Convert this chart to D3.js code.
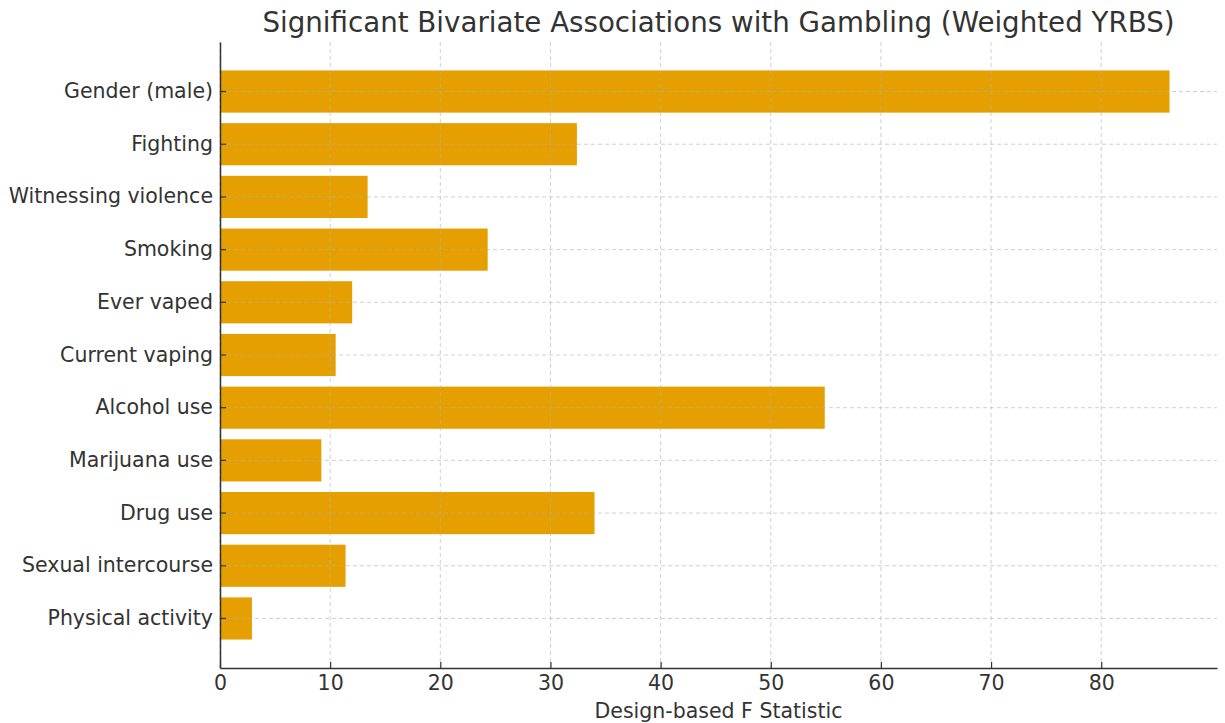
<!DOCTYPE html>
<html>
<head>
<meta charset="utf-8">
<script src="https://cdn.jsdelivr.net/npm/d3@7"></script>
<style>
  body { margin: 0; background: #fff; }
  text { font-family: "DejaVu Sans", sans-serif; fill: #333; }
</style>
</head>
<body>
<div id="chart"></div>
<script>
// data
var categories = ["Gender (male)", "Fighting", "Witnessing violence", "Smoking", "Ever vaped",
  "Current vaping", "Alcohol use", "Marijuana use", "Drug use", "Sexual intercourse", "Physical activity"];
var fStats = [86.2, 32.4, 13.4, 24.3, 12.0, 10.5, 54.9, 9.2, 34.0, 11.4, 2.9];
var xTicks = [0, 10, 20, 30, 40, 50, 60, 70, 80];

var margin = {top: 42, right: 8, bottom: 55, left: 220},
    width = 1225 - margin.left - margin.right,
    height = 723 - margin.top - margin.bottom;

var svg = d3.select("#chart")
  .append("svg")
    .attr("width", 1225)
    .attr("height", 723)
  .append("g")
    .attr("transform", "translate(" + margin.left + "," + margin.top + ")");

var x = d3.scaleLinear()
  .domain([0, d3.max(fStats) * 1.05])
  .range([0, width]);

var y = d3.scaleBand()
  .domain(categories)
  .range([0, height])
  .paddingInner(0.2)
  .paddingOuter(0.54);

// bars
svg.selectAll(".bar")
  .data(categories)
  .enter()
  .append("rect")
    .attr("class", "bar")
    .attr("x", x(0))
    .attr("y", function(d) { return y(d); })
    .attr("width", function(d, i) { return x(fStats[i]) - x(0); })
    .attr("height", y.bandwidth())
    .attr("fill", "#E69F00");

// grid on top of bars
var grid = svg.append("g").attr("class", "grid");
grid.selectAll(".vg")
  .data(xTicks)
  .enter()
  .append("line")
    .attr("x1", function(d) { return x(d); })
    .attr("x2", function(d) { return x(d); })
    .attr("y1", 0)
    .attr("y2", height)
    .attr("stroke", "#b0b0b0")
    .attr("stroke-opacity", 0.6)
    .attr("stroke-dasharray", "4,3");
grid.selectAll(".hg")
  .data(categories)
  .enter()
  .append("line")
    .attr("x1", 0)
    .attr("x2", width)
    .attr("y1", function(d) { return y(d) + y.bandwidth() / 2; })
    .attr("y2", function(d) { return y(d) + y.bandwidth() / 2; })
    .attr("stroke", "#b0b0b0")
    .attr("stroke-opacity", 0.6)
    .attr("stroke-dasharray", "4,3");

// X axis
var xAxis = svg.append("g")
  .attr("transform", "translate(0," + height + ")")
  .call(d3.axisBottom(x).tickValues(xTicks).tickSizeInner(-6).tickSizeOuter(0).tickPadding(7));
xAxis.selectAll("text").style("font-size", "20.5px").style("fill", "#333");
xAxis.selectAll(".tick line").attr("stroke", "#333").attr("stroke-width", 1.2);
xAxis.select(".domain").attr("stroke", "#333").attr("stroke-width", 1.5);

// Y axis
var yAxis = svg.append("g")
  .call(d3.axisLeft(y).tickSizeInner(-6).tickSizeOuter(0).tickPadding(7));
yAxis.selectAll("text").style("font-size", "20.5px").style("fill", "#333");
yAxis.selectAll(".tick line").attr("stroke", "#333").attr("stroke-width", 1.2);
yAxis.select(".domain").attr("stroke", "#333").attr("stroke-width", 1.5);

// title
svg.append("text")
  .attr("x", width / 2)
  .attr("y", -10)
  .attr("text-anchor", "middle")
  .style("font-size", "27.7px")
  .text("Significant Bivariate Associations with Gambling (Weighted YRBS)");

// x label
svg.append("text")
  .attr("x", width / 2)
  .attr("y", height + 50)
  .attr("text-anchor", "middle")
  .style("font-size", "20.5px")
  .text("Design-based F Statistic");
</script>
</body>
</html>
